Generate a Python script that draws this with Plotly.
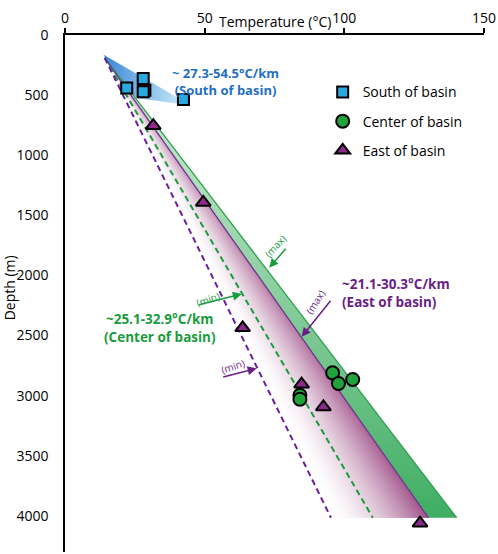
import plotly.graph_objects as go

# marker data (temperature degC, depth m)
south_temp = [28.0, 28.6, 28.0, 22.1, 42.4]
south_depth = [362, 460, 471, 440, 537]

center_temp = [95.8, 97.9, 103.0, 84.1, 84.1]
center_depth = [2810, 2898, 2865, 2996, 3029]

east_temp = [31.6, 49.5, 63.6, 84.7, 92.5, 127.1]
east_depth = [754, 1393, 2435, 2904, 3093, 4060]

# gradient lines, top and bottom ends
line_depth = [190, 4015]
center_max_temp = [14.2, 140.2]
center_min_temp = [14.2, 110.2]
east_max_temp = [14.2, 130.1]
east_min_temp = [14.2, 95.2]

# outline of the south-of-basin fan
fan_temp = [13.7, 41.2, 40.6, 25.7, 20.3, 13.7]
fan_depth = [162, 532, 571, 523, 398, 162]

x_ticks = [0, 50, 100, 150]
y_ticks = [0, 500, 1000, 1500, 2000, 2500, 3000, 3500, 4000]

BLUE = "#1f6fc2"
GREEN = "#1a9c3e"
PURPLE = "#6a1f86"
FONT = "Open Sans"


def mix(c1, c2, t):
    return "rgb({},{},{})".format(*[round(a + (b - a) * t) for a, b in zip(c1, c2)])


fig = go.Figure()

# blue fan (south of basin)
fig.add_trace(go.Scatter(
    x=fan_temp, y=fan_depth, mode="lines", line_width=0, fill="toself",
    fillgradient=dict(type="horizontal", colorscale=[[0, "#3a86d6"], [1, "#c4e8f8"]]),
    showlegend=False, hoverinfo="skip"))

# green band between the two max lines
fig.add_trace(go.Scatter(
    x=center_max_temp + east_max_temp[::-1], y=line_depth + line_depth[::-1],
    mode="lines", line_width=0, fill="toself",
    fillgradient=dict(type="vertical", start=line_depth[0], stop=line_depth[1],
                      colorscale=[[0, "#d9f0dc"], [1, "#3fae63"]]),
    showlegend=False, hoverinfo="skip"))

# purple shading, fading from the max line towards the min line
white = (255, 255, 255)
purple_dark = (158, 78, 134)
n_steps = 24
for k in range(n_steps):
    f = k / n_steps
    strength = f ** 1.6
    bottom_col = mix(white, purple_dark, strength)
    top_col = mix(white, purple_dark, strength * 0.45)
    left = [mn + f * (mx - mn) for mn, mx in zip(east_min_temp, east_max_temp)]
    fig.add_trace(go.Scatter(
        x=left + east_max_temp[::-1], y=line_depth + line_depth[::-1],
        mode="lines", line_width=0, fill="toself",
        fillgradient=dict(type="vertical", start=line_depth[0], stop=line_depth[1],
                          colorscale=[[0, top_col], [1, bottom_col]]),
        showlegend=False, hoverinfo="skip"))

# gradient lines
fig.add_trace(go.Scatter(x=center_max_temp, y=line_depth, mode="lines",
                         line=dict(color="#2f9f4f", width=1.3), showlegend=False))
fig.add_trace(go.Scatter(x=east_max_temp, y=line_depth, mode="lines",
                         line=dict(color="#6b3490", width=1.3), showlegend=False))
fig.add_trace(go.Scatter(x=center_min_temp, y=line_depth, mode="lines",
                         line=dict(color=GREEN, width=2, dash="6px,4px"), showlegend=False))
fig.add_trace(go.Scatter(x=east_min_temp, y=line_depth, mode="lines",
                         line=dict(color="#6a1fa0", width=2, dash="6px,4px"), showlegend=False))

# data points
fig.add_trace(go.Scatter(
    x=south_temp, y=south_depth, mode="markers", name="South of basin", legendgroup="s",
    marker=dict(symbol="square", size=11, color="#2aa8e0", line=dict(color="black", width=2))))
fig.add_trace(go.Scatter(
    x=center_temp, y=center_depth, mode="markers", name="Center of basin", legendgroup="c",
    marker=dict(symbol="circle", size=13, color="#1fa33a", line=dict(color="black", width=2))))
fig.add_trace(go.Scatter(
    x=east_temp, y=east_depth, mode="markers", name="East of basin", legendgroup="e",
    marker=dict(symbol="triangle-up", size=13, color="#8e2a8c", line=dict(color="black", width=2))))

annotations = [
    dict(x=75, y=1, xref="x", yref="paper", yshift=25, text="Temperature (°C)",
         showarrow=False, font=dict(size=14, color="black")),
    dict(x=0, y=0.51, xref="paper", yref="paper", xshift=-56, xanchor="center",
         text="Depth (m)", textangle=-90, showarrow=False, font=dict(size=14, color="black")),
    dict(x=57.6, y=383, text="<b>~ 27.3-54.5°C/km<br>(South of basin)</b>",
         showarrow=False, align="center", font=dict(size=13, color=BLUE)),
    dict(x=98.5, y=2142, text="<b>~21.1-30.3°C/km<br>(East of basin)</b>", xanchor="left",
         showarrow=False, align="left", font=dict(size=13.5, color=PURPLE)),
    dict(x=34.0, y=2437, text="<b>~25.1-32.9°C/km<br>(Center of basin)</b>",
         showarrow=False, align="center", font=dict(size=13.5, color=GREEN)),
    # (max)/(min) labels
    dict(x=75.2, y=1754, text="(max)", textangle=-48, showarrow=False,
         font=dict(size=10, color=GREEN)),
    dict(x=51.3, y=2196, text="(min)", textangle=-18, showarrow=False,
         font=dict(size=10, color=GREEN)),
    dict(x=89.5, y=2218, text="(max)", textangle=-58, showarrow=False,
         font=dict(size=10, color=PURPLE)),
    dict(x=60.3, y=2754, text="(min)", textangle=-18, showarrow=False,
         font=dict(size=10, color=PURPLE)),
    # arrows
    dict(x=73.1, y=1935, ax=79.5, ay=1765, axref="x", ayref="y", text="",
         showarrow=True, arrowhead=2, arrowsize=1.2, arrowwidth=1.5, arrowcolor=GREEN),
    dict(x=63.3, y=2154, ax=47.4, ay=2246, axref="x", ayref="y", text="",
         showarrow=True, arrowhead=2, arrowsize=1.2, arrowwidth=1.5, arrowcolor=GREEN),
    dict(x=84.7, y=2510, ax=95.5, ay=2198, axref="x", ayref="y", text="",
         showarrow=True, arrowhead=2, arrowsize=1.2, arrowwidth=1.5, arrowcolor=PURPLE),
    dict(x=68.6, y=2773, ax=56.1, ay=2848, axref="x", ayref="y", text="",
         showarrow=True, arrowhead=2, arrowsize=1.2, arrowwidth=1.5, arrowcolor=PURPLE),
]

fig.update_layout(
    width=498, height=554,
    margin=dict(l=65, r=14, t=35, b=2),
    paper_bgcolor="white", plot_bgcolor="white",
    font=dict(family=FONT, size=15, color="black"),
    annotations=annotations,
    legend=dict(x=0.615, y=0.92, xanchor="left", yanchor="top", font=dict(size=14),
                itemwidth=30, tracegroupgap=8, bgcolor="rgba(0,0,0,0)"),
)
fig.update_xaxes(range=[0, 150], side="top", tickvals=x_ticks, showgrid=False,
                 zeroline=False, showline=True, linecolor="black", linewidth=1.5,
                 ticks="outside", ticklen=5, tickwidth=1.5, tickcolor="black",
                 automargin=False, tickfont=dict(size=14))
fig.update_yaxes(range=[4300, 0], tickvals=y_ticks, showgrid=False, zeroline=False,
                 showline=True, linecolor="black", linewidth=1.5,
                 ticks="outside", ticklen=12, tickcolor="rgba(0,0,0,0)",
                 automargin=False, tickfont=dict(size=14))

# drop the browser's default page margin so the figure sits at the window origin
fig.write_html("out.html", config={"displayModeBar": False},
               post_script="document.body.style.margin='0px';")
